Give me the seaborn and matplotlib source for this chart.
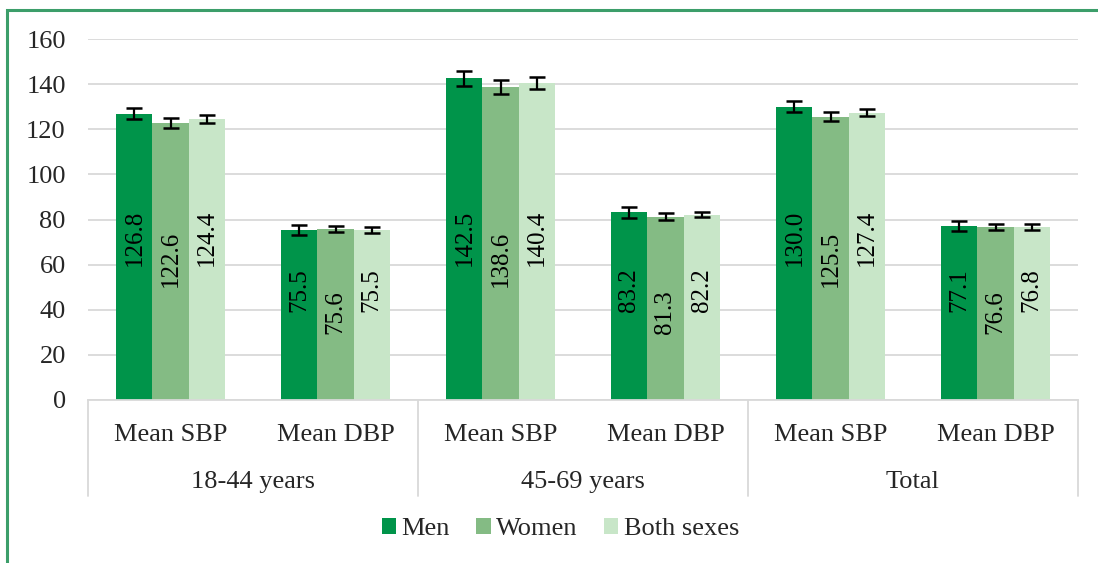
import pandas as pd
import seaborn as sns
import matplotlib.pyplot as plt
from matplotlib.patches import Rectangle
from matplotlib.transforms import blended_transform_factory

groups = ['18-44 years', '45-69 years', 'Total']
measures = ['Mean SBP', 'Mean DBP']
sexes = ['Men', 'Women', 'Both sexes']
men = [126.8, 75.5, 142.5, 83.2, 130.0, 77.1]
women = [122.6, 75.6, 138.6, 81.3, 125.5, 76.6]
both = [124.4, 75.5, 140.4, 82.2, 127.4, 76.8]
men_err = [2.4, 2.2, 3.3, 2.4, 2.4, 2.2]
women_err = [2.2, 1.3, 3.1, 1.6, 2.0, 1.3]
both_err = [1.8, 1.3, 2.6, 1.1, 1.6, 1.3]
colors = ['#00944A', '#84BB84', '#C8E6C8']

cats = [g + '|' + m for g in groups for m in measures]
rows = []
for sex, vals, errs in zip(sexes, [men, women, both], [men_err, women_err, both_err]):
    for c, v, e in zip(cats, vals, errs):
        rows.append({'cat': c, 'sex': sex, 'value': v, 'err': e})
df = pd.DataFrame(rows)

sns.set_style('white')
plt.rcParams['font.family'] = ['Liberation Serif', 'DejaVu Serif']

fig = plt.figure(figsize=(10.98, 5.63), dpi=100)
ax = fig.add_axes([88 / 1098, 1 - 400 / 563, 990 / 1098, 361 / 563])
sns.barplot(data=df, x='cat', y='value', hue='sex', order=cats, hue_order=sexes,
            palette=colors, width=0.655, errorbar=None, saturation=1, linewidth=0,
            ax=ax, legend=True)

# error bars and rotated value labels
label_y = {('Mean SBP', 0): 71.8, ('Mean SBP', 1): 62.5, ('Mean SBP', 2): 71.8,
           ('Mean DBP', 0): 48.8, ('Mean DBP', 1): 39.0, ('Mean DBP', 2): 48.8}
for si, (cont, sex) in enumerate(zip(ax.containers, sexes)):
    sub = df[df.sex == sex].set_index('cat').loc[cats]
    xs = [p.get_x() + p.get_width() / 2 for p in cont.patches]
    ax.errorbar(xs, sub['value'], yerr=sub['err'], fmt='none', ecolor='black',
                elinewidth=1.6, capsize=5.5, capthick=1.8, zorder=5)
    for x, c, v in zip(xs, cats, sub['value']):
        m = c.split('|')[1]
        ax.text(x, label_y[(m, si)], f'{v:.1f}', rotation=90, ha='center', va='center',
                fontsize=18, color='black')

ax.set_ylim(0, 160)
ax.set_yticks(range(0, 161, 20))
ax.yaxis.grid(True, color='#D9D9D9', linewidth=1.3)
ax.set_axisbelow(True)
for s in ['left', 'right', 'top']:
    ax.spines[s].set_visible(False)
ax.spines['bottom'].set_color('#D9D9D9')
ax.spines['bottom'].set_linewidth(1.3)
ax.set_xlim(-0.5, len(cats) - 0.5)
ax.set_xticks(range(len(cats)))
ax.set_xticklabels([c.split('|')[1] for c in cats], fontsize=19)
ax.tick_params(axis='x', length=0, pad=17)
ax.tick_params(axis='y', length=0, labelsize=19, pad=16)
ax.set_xlabel('')
ax.set_ylabel('')

# group labels and separators under the axis
trans = blended_transform_factory(ax.transData, ax.transAxes)
for i, g in enumerate(groups):
    ax.text(2 * i + 0.5, -0.227, g, transform=trans, ha='center', va='center', fontsize=19)
for b in [-0.5, 1.5, 3.5, 5.5]:
    ax.plot([b, b], [0, -0.265], transform=trans, color='#D9D9D9', linewidth=1.3, clip_on=False)

leg = ax.legend(loc='center', bbox_to_anchor=(0.477, -0.357), ncol=3, frameon=False,
                fontsize=19, handlelength=0.55, handleheight=0.55, handletextpad=0.2,
                columnspacing=1.0)

fig.patches.append(Rectangle((7 / 1098, -0.05), 1.2, 1 - 9.5 / 563 + 0.05, transform=fig.transFigure,
                             fill=False, edgecolor='#3C9E6A', linewidth=2.2))

fig.savefig('out.png', dpi=100)
